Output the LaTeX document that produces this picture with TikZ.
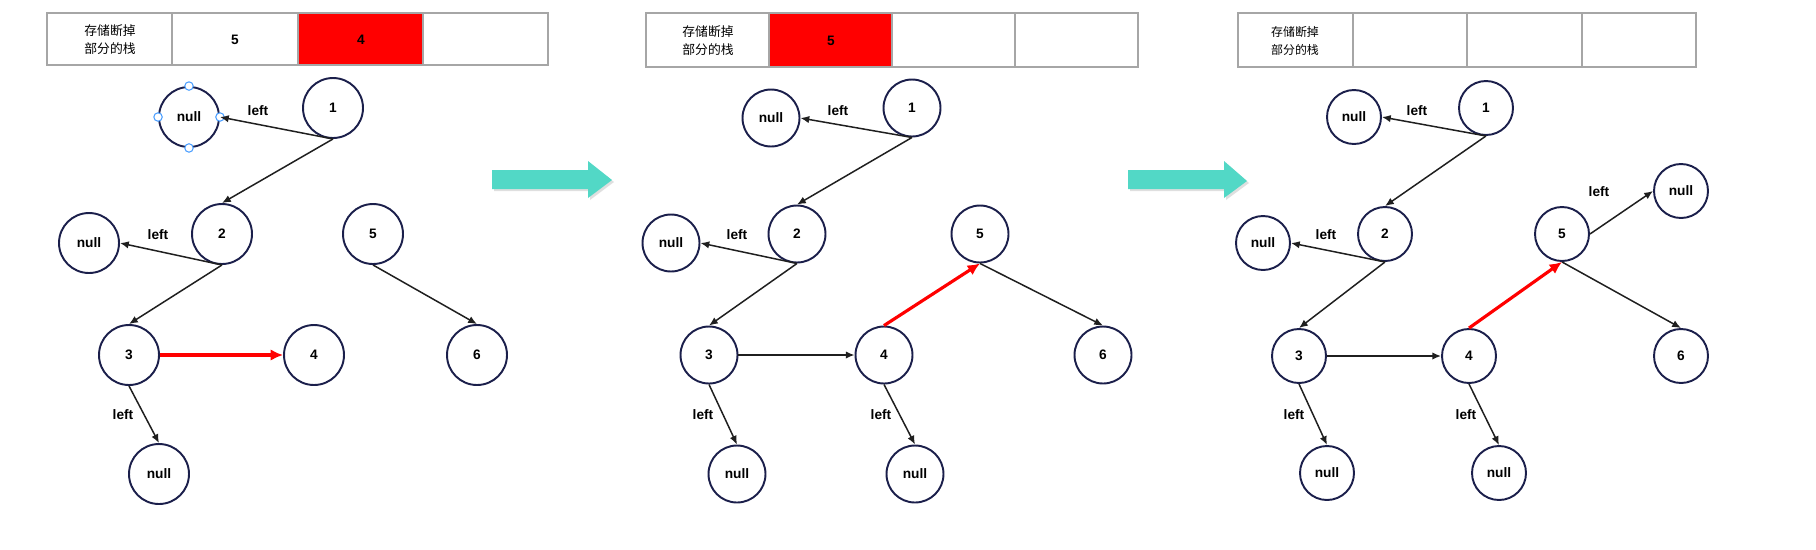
\documentclass[tikz,border=0pt]{standalone}
\usepackage{fontspec}
\setmainfont{Liberation Sans}
\newfontfamily\cjk{Noto Sans CJK SC}
\usetikzlibrary{arrows.meta}

\definecolor{ringblue}{HTML}{1B1F4B}
\definecolor{stackgray}{HTML}{A6A6A6}
\definecolor{flowteal}{HTML}{52D8C6}
\definecolor{handleblue}{HTML}{4A9EFF}

\begin{document}
\begin{tikzpicture}[x=0.02cm, y=-0.02cm,
    tnode/.style={circle, draw=ringblue, line width=1.1pt, inner sep=0pt,
        minimum size=1.2cm, font=\bfseries\fontsize{7.8}{9}\selectfont},
    tlabel/.style={inner sep=0pt, font=\bfseries\fontsize{7.8}{9}\selectfont},
    link/.style={draw=black!88, line width=0.85pt, -{Latex[length=5pt,width=4.2pt]}},
    cutlink/.style={draw=red, line width=1.8pt, -{Latex[length=7pt,width=6.5pt]}},
    stackcell/.style={draw=stackgray, line width=0.7pt},
    stacktext/.style={inner sep=0pt, align=center, font=\cjk\fontsize{7.3}{10.3}\selectfont},
    handle/.style={draw=handleblue, fill=white, line width=0.6pt},
    flowarrow/.style={fill=flowteal}
]
    \useasboundingbox (0,0) rectangle (1816,549);

    % ---------- step 1 ----------
    % stack of cut parts
    \fill[red] (298,13) rectangle (423,65);
    \draw[stackcell] (47,13) rectangle (548,65);
    \foreach \x in {172,298,423}
        \draw[stackcell] (\x,13) -- (\x,65);
    \node[stacktext] (as0) at (110,40) {存储断掉\\部分的栈};
    \node[tlabel] (as1) at (235,40) {5};
    \node[tlabel] (as2) at (361,40) {4};

    % tree
    \node[tnode] (a1) at (333,108) {1};
    \node[tnode] (a2) at (222,234) {2};
    \node[tnode] (a3) at (129,355) {3};
    \node[tnode] (a4) at (314,355) {4};
    \node[tnode] (a5) at (373,234) {5};
    \node[tnode] (a6) at (477,355) {6};
    \node[tnode] (an1) at (189,117) {null};
    \node[tnode] (an2) at (89,243) {null};
    \node[tnode] (an3) at (159,474) {null};

    % selection handles
    \foreach \a in {north,south,east,west}
        \draw[handle] (an1.\a) circle[radius=2.4pt];

    \draw[link] (a1.south) -- (an1.east);
    \draw[link] (a1.south) -- (a2.north);
    \draw[link] (a2.south) -- (an2.east);
    \draw[link] (a2.south) -- (a3.north);
    \draw[link] (a3.south) -- (an3.north);
    \draw[link] (a5.south) -- (a6.north);
    \draw[cutlink] (a3.east) -- (a4.west);

    \node[tlabel] (al1) at (258,111) {left};
    \node[tlabel] (al2) at (158,235) {left};
    \node[tlabel] (al3) at (123,415) {left};

    % arrow to step 2
    \fill[gray!25] (494,172) -- (590,172) -- (590,163) -- (614,182) -- (590,200) -- (590,191) -- (494,191) -- cycle;
    \fill[flowarrow] (492,170) -- (588,170) -- (588,161) -- (612,180) -- (588,198) -- (588,189) -- (492,189) -- cycle;

    % ---------- step 2 ----------
    \fill[red] (769,13) rectangle (892,67);
    \draw[stackcell] (646,13) rectangle (1138,67);
    \foreach \x in {769,892,1015}
        \draw[stackcell] (\x,13) -- (\x,67);
    \node[stacktext] (bs0) at (708,41) {存储断掉\\部分的栈};
    \node[tlabel] (bs1) at (831,41) {5};

    \begin{scope}[tnode/.append style={minimum size=1.14cm}]
    \node[tnode] (b1) at (912,108) {1};
    \node[tnode] (b2) at (797,234) {2};
    \node[tnode] (b3) at (709,355) {3};
    \node[tnode] (b4) at (884,355) {4};
    \node[tnode] (b5) at (980,234) {5};
    \node[tnode] (b6) at (1103,355) {6};
    \node[tnode] (bn1) at (771,118) {null};
    \node[tnode] (bn2) at (671,243) {null};
    \node[tnode] (bn3) at (737,474) {null};
    \node[tnode] (bn4) at (915,474) {null};
    \end{scope}

    \draw[link] (b1.south) -- (bn1.east);
    \draw[link] (b1.south) -- (b2.north);
    \draw[link] (b2.south) -- (bn2.east);
    \draw[link] (b2.south) -- (b3.north);
    \draw[link] (b3.south) -- (bn3.north);
    \draw[link] (b3.east) -- (b4.west);
    \draw[link] (b4.south) -- (bn4.north);
    \draw[link] (b5.south) -- (b6.north);
    \draw[cutlink] (b4.north) -- (b5.south);

    \node[tlabel] (bl1) at (838,111) {left};
    \node[tlabel] (bl2) at (737,235) {left};
    \node[tlabel] (bl3) at (703,415) {left};
    \node[tlabel] (bl4) at (881,415) {left};

    % arrow to step 3
    \fill[gray!25] (1130,172) -- (1226,172) -- (1226,163) -- (1249,183) -- (1226,200) -- (1226,191) -- (1130,191) -- cycle;
    \fill[flowarrow] (1128,170) -- (1224,170) -- (1224,161) -- (1247,181) -- (1224,198) -- (1224,189) -- (1128,189) -- cycle;

    % ---------- step 3 ----------
    \draw[stackcell] (1238,13) rectangle (1696,67);
    \foreach \x in {1353,1467,1582}
        \draw[stackcell] (\x,13) -- (\x,67);
    \node[stacktext, font=\cjk\fontsize{6.8}{9.8}\selectfont] (cs0) at (1295,41) {存储断掉\\部分的栈};

    \begin{scope}[tnode/.append style={minimum size=1.08cm}]
    \node[tnode] (c1) at (1486,108) {1};
    \node[tnode] (c2) at (1385,234) {2};
    \node[tnode] (c3) at (1299,356) {3};
    \node[tnode] (c4) at (1469,356) {4};
    \node[tnode] (c5) at (1562,234) {5};
    \node[tnode] (c6) at (1681,356) {6};
    \node[tnode] (cn1) at (1354,117) {null};
    \node[tnode] (cn2) at (1263,243) {null};
    \node[tnode] (cn3) at (1327,473) {null};
    \node[tnode] (cn4) at (1499,473) {null};
    \node[tnode] (cn5) at (1681,191) {null};
    \end{scope}

    \draw[link] (c1.south) -- (cn1.east);
    \draw[link] (c1.south) -- (c2.north);
    \draw[link] (c2.south) -- (cn2.east);
    \draw[link] (c2.south) -- (c3.north);
    \draw[link] (c3.south) -- (cn3.north);
    \draw[link] (c3.east) -- (c4.west);
    \draw[link] (c4.south) -- (cn4.north);
    \draw[link] (c5.south) -- (c6.north);
    \draw[link] (c5.east) -- (cn5.west);
    \draw[cutlink] (c4.north) -- (c5.south);

    \node[tlabel] (cl1) at (1417,111) {left};
    \node[tlabel] (cl2) at (1326,235) {left};
    \node[tlabel] (cl3) at (1294,415) {left};
    \node[tlabel] (cl4) at (1466,415) {left};
    \node[tlabel] (cl5) at (1599,192) {left};
\end{tikzpicture}
\end{document}
